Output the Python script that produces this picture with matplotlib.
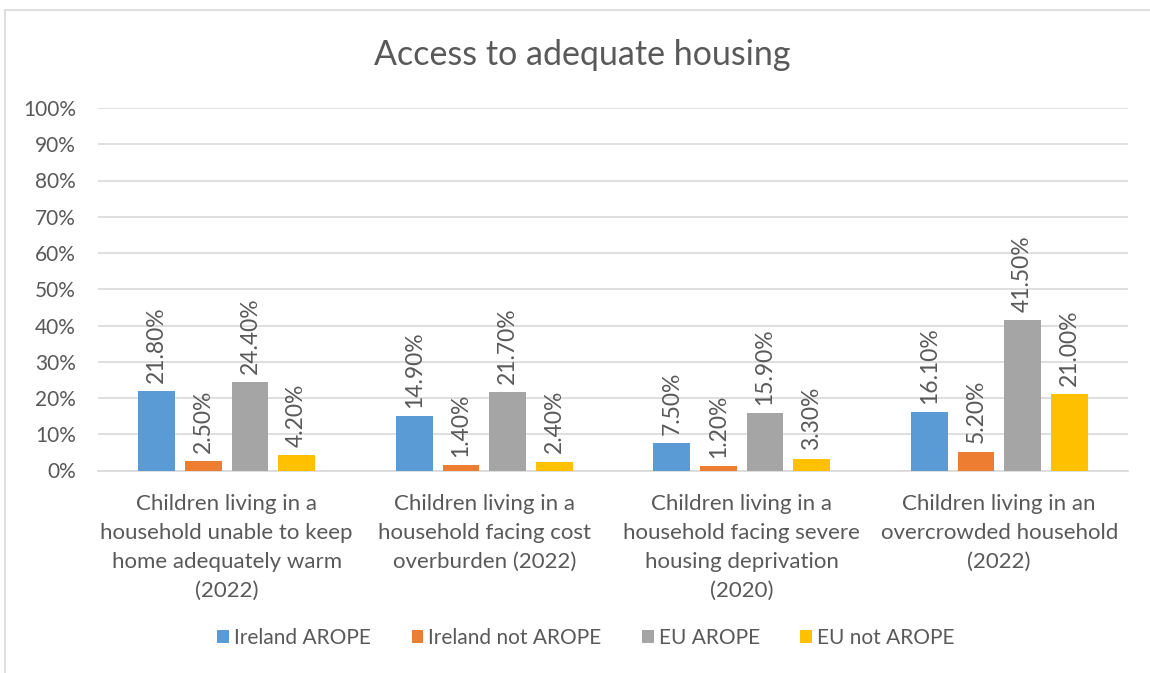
import numpy as np
import matplotlib
matplotlib.use('Agg')
import matplotlib.pyplot as plt
from matplotlib.patches import Rectangle
from matplotlib.ticker import FuncFormatter

plt.rcParams['font.family'] = ['Lato', 'DejaVu Sans']

categories = [
    "Children living in a\nhousehold unable to keep\nhome adequately warm\n(2022)",
    "Children living in a\nhousehold facing cost\noverburden (2022)",
    "Children living in a\nhousehold facing severe\nhousing deprivation\n(2020)",
    "Children living in an\novercrowded household\n(2022)",
]
series_names = ["Ireland AROPE", "Ireland not AROPE", "EU AROPE", "EU not AROPE"]
ireland_arope = [21.8, 14.9, 7.5, 16.1]
ireland_not_arope = [2.5, 1.4, 1.2, 5.2]
eu_arope = [24.4, 21.7, 15.9, 41.5]
eu_not_arope = [4.2, 2.4, 3.3, 21.0]
colors = ["#5B9BD5", "#ED7D31", "#A5A5A5", "#FFC000"]

text_col = "#595959"
fig = plt.figure(figsize=(11.5, 6.73), dpi=100)
W, H = 1150, 673
# chart border (cropped on right and bottom)
fig.add_artist(Rectangle((5 / W, -0.1), 1.2, 1 - 10 / H + 0.1, transform=fig.transFigure,
                         fill=False, edgecolor="#D9D9D9", linewidth=1.2))

ax = fig.add_axes([98 / W, 1 - 470.5 / H, (1128 - 98) / W, (470.5 - 108) / H])

x = np.arange(len(categories))
pitch = 0.181
width = 0.143
all_series = [ireland_arope, ireland_not_arope, eu_arope, eu_not_arope]
for i, (vals, name, c) in enumerate(zip(all_series, series_names, colors)):
    offs = (i - 1.5) * pitch
    bars = ax.bar(x + offs, vals, width, color=c, label=name, zorder=3)
    for b, v in zip(bars, vals):
        ax.annotate(f"{v:.2f}%", xy=(b.get_x() + b.get_width() / 2, v),
                    xytext=(0, 6), textcoords="offset points",
                    rotation=90, ha="center", va="bottom",
                    fontsize=16.5, color=text_col)

ax.set_xlim(-0.5, 3.5)
ax.set_ylim(0, 100)
ax.set_yticks(np.arange(0, 101, 10))
ax.yaxis.set_major_formatter(FuncFormatter(lambda v, p: f"{v:.0f}%"))
ax.grid(axis="y", color="#D9D9D9", linewidth=1.2, zorder=0)
for s in ["top", "right", "left"]:
    ax.spines[s].set_visible(False)
ax.spines["bottom"].set_color("#D9D9D9")
ax.spines["bottom"].set_linewidth(1.2)
ax.tick_params(axis="both", length=0, labelsize=15, colors=text_col)
ax.tick_params(axis="x", pad=17)
ax.tick_params(axis="y", pad=16)
ax.set_xticks(x)
ax.set_xticklabels(categories, fontsize=16, color=text_col, linespacing=1.56)
ax.set_axisbelow(True)

fig.text(582 / W, 1 - 55 / H, "Access to adequate housing", ha="center", va="center",
         fontsize=24.5, color=text_col)

ax.legend(loc="center", bbox_to_anchor=(586 / W, 1 - 638 / H), bbox_transform=fig.transFigure,
          ncol=4, frameon=False, fontsize=15, labelcolor=text_col,
          handlelength=0.55, handleheight=0.55, handletextpad=0.25, columnspacing=1.95)

fig.savefig("out.png", dpi=100)
